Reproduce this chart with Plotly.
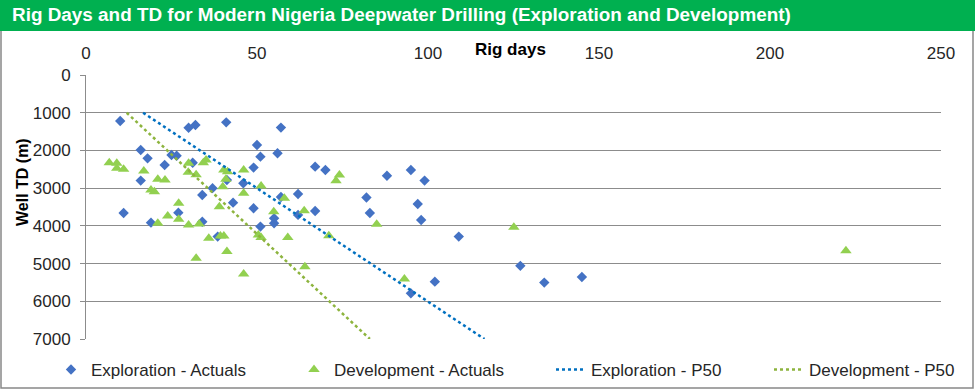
import plotly.graph_objects as go

# ---------------- data ----------------
exp_days = [10, 16, 18, 16, 23, 25, 26.5, 11, 19, 27, 30, 32, 41, 31.2, 34, 34, 37, 43, 46, 41.2, 38.5,
            49, 50, 51, 49, 51, 55, 55, 56, 57, 57, 62, 62, 67, 67, 70, 82, 83, 88, 95, 97, 98, 99,
            109, 102, 95, 127, 134, 145]
exp_td = [1220, 1990, 2210, 2800, 2385, 2120, 2140, 3660, 3915, 3650, 1400, 1325, 1255, 2325, 3180, 3890,
          3000, 3385, 2870, 2785, 4285, 2455, 1855, 2165, 3535, 4020, 3800, 3930, 2075, 3235, 1395, 3155,
          3710, 2430, 3605, 2520, 3250, 3660, 2670, 2520, 3420, 3845, 2800, 4285, 5480, 5790, 5060,
          5505, 5355]

dev_days = [6.8, 9.0, 9.0, 11.0, 16.9, 21.0, 23.1, 19.0, 20.0, 27.1, 30.0, 29.9, 32.2, 34.3, 35.1, 40.3,
            41.4, 40.9, 40.0, 46.1, 51.2, 46.1, 58.0, 39.0, 23.9, 27.1, 21.0, 30.0, 33.1, 35.9, 39.3,
            40.3, 41.2, 32.2, 46.1, 50.4, 51.2, 54.9, 63.8, 73.1, 74.1, 59.0, 71.0, 85.0, 64.0, 93.1,
            125.1, 222.2]
dev_td = [2325, 2340, 2473, 2499, 2544, 2764, 2783, 3048, 3093, 3400, 2340, 2579, 2642, 2324, 2253, 2518,
          2563, 2764, 2960, 2518, 2942, 3135, 3268, 3491, 3737, 3825, 3931, 3976, 3949, 4328, 4267,
          4267, 4683, 4858, 5274, 4241, 4312, 3623, 3597, 2801, 2650, 4312, 4259, 3957, 5081, 5407,
          4037, 4657]

exp_p50_days = [16.7, 116.5]
exp_p50_td = [1000, 7000]
dev_p50_days = [11.9, 83.0]
dev_p50_td = [1000, 7000]

x_ticks = [0, 50, 100, 150, 200, 250]
y_ticks = [0, 1000, 2000, 3000, 4000, 5000, 6000, 7000]

title_text = "Rig Days and TD for Modern Nigeria Deepwater Drilling (Exploration and Development)"
x_title = "Rig days"
y_title = "Well TD (m)"

# ---------------- styles ----------------
FONT = "Liberation Sans, Arial, sans-serif"
TXT = "#262626"
GRID = "#8c8c8c"
W, H = 975, 390
L, R, T, B = 86, 34, 75, 51
PW, PH = W - L - R, H - T - B


def px(x):
    return (x - L) / PW


def py(y):
    return (H - B - y) / PH


fig = go.Figure()
fig.add_trace(go.Scatter(x=exp_days, y=exp_td, mode="markers", name="Exploration - Actuals",
                         marker=dict(symbol="diamond", size=8, color="#4472C4"), legend="legend"))
fig.add_trace(go.Scatter(x=dev_days, y=dev_td, mode="markers", name="Development - Actuals",
                         marker=dict(symbol="triangle-up", size=10, color="#92D050"), legend="legend2"))
fig.add_trace(go.Scatter(x=exp_p50_days, y=exp_p50_td, mode="lines", name="Exploration - P50",
                         line=dict(color="#0070C0", width=2.5, dash="dot"), legend="legend3"))
fig.add_trace(go.Scatter(x=dev_p50_days, y=dev_p50_td, mode="lines", name="Development - P50",
                         line=dict(color="#8DB43E", width=2.5, dash="dot"), legend="legend4"))

leg_common = dict(orientation="h", xanchor="left", yanchor="middle", xref="container", yref="container",
                  bgcolor="rgba(0,0,0,0)", font=dict(family=FONT, size=17, color=TXT))
leg_y = 1 - 370 / H

fig.update_layout(
    width=W, height=H,
    margin=dict(l=L, r=R, t=T, b=B, autoexpand=False),
    paper_bgcolor="white", plot_bgcolor="white",
    font=dict(family=FONT, size=17, color=TXT),
    showlegend=True,
    legend=dict(x=51 / W, y=leg_y, **leg_common),
    legend2=dict(x=294 / W, y=leg_y, **leg_common),
    legend3=dict(x=551 / W, y=leg_y, **leg_common),
    legend4=dict(x=769 / W, y=leg_y, **leg_common),
    xaxis=dict(range=[0, 250], side="top", tickvals=x_ticks, showgrid=False, zeroline=False,
               showline=True, linecolor="white", linewidth=3, ticks="",
               tickfont=dict(family=FONT, size=17, color=TXT), ticklabelstandoff=6),
    yaxis=dict(range=[7000, 0], tickvals=y_ticks, showgrid=True, gridcolor=GRID, gridwidth=1,
               zeroline=False, showline=True, linecolor=GRID, linewidth=1, ticks="outside",
               ticklen=5, tickcolor=GRID, tickfont=dict(family=FONT, size=17, color=TXT),
               ticklabelstandoff=6),
    shapes=[
        dict(type="rect", xref="paper", yref="paper", x0=px(1), x1=px(973), y0=py(388), y1=py(0),
             line=dict(color="#888888", width=1.5), fillcolor="rgba(0,0,0,0)", layer="below"),
        dict(type="rect", xref="paper", yref="paper", x0=px(0), x1=px(975), y0=py(31), y1=py(0),
             line=dict(width=0), fillcolor="#00B050", layer="above"),
    ],
    annotations=[
        dict(text=f"<b>{title_text}</b>", xref="paper", yref="paper", x=px(10), y=py(15),
             xanchor="left", yanchor="middle", showarrow=False,
             font=dict(family=FONT, size=18.9, color="white")),
        dict(text=f"<b>{x_title}</b>", xref="paper", yref="paper", x=px(510), y=py(49),
             xanchor="center", yanchor="middle", showarrow=False,
             font=dict(family=FONT, size=17, color="#000000")),
        dict(text=f"<b>{y_title}</b>", xref="paper", yref="paper", x=px(22), y=py(182),
             xanchor="center", yanchor="middle", showarrow=False, textangle=-90,
             font=dict(family=FONT, size=16, color="#000000")),
    ],
)

fig.write_html("out.html", config={"displayModeBar": False},
               post_script="document.body.style.margin='0';document.body.style.padding='0';"
                           "document.documentElement.style.overflow='hidden';")
